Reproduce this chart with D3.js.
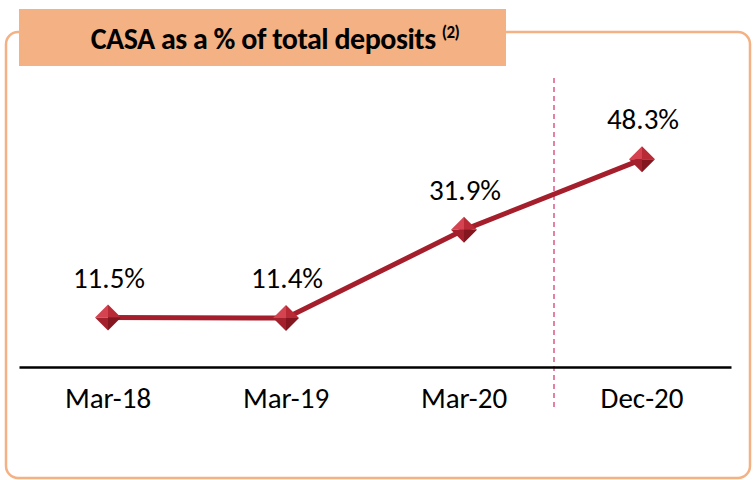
<!DOCTYPE html>
<html>
<head>
<meta charset="utf-8">
<style>
body{margin:0;background:#fff;}
svg{display:block;font-family:Carlito,Lato,"Open Sans",sans-serif;}
</style>
<script src="https://d3js.org/d3.v7.min.js"></script>
</head>
<body>
<svg id="chart" width="754" height="480"></svg>
<script>
// data
const categories = ["Mar-18", "Mar-19", "Mar-20", "Dec-20"];
const casaValues = [11.5, 11.4, 31.9, 48.3];
const valueLabels = ["11.5%", "11.4%", "31.9%", "48.3%"];
const titleText = "CASA as a % of total deposits";
const titleNote = "(2)";

const svg = d3.select("#chart");
const orange = "#F4B183";
const lineRed = "#A51E2B";

// outer frame
svg.append("rect")
  .attr("x", 6).attr("y", 32)
  .attr("width", 744).attr("height", 446)
  .attr("rx", 12).attr("ry", 12)
  .attr("fill", "none")
  .attr("stroke", orange)
  .attr("stroke-width", 2.5);

// title box
svg.append("rect")
  .attr("x", 19).attr("y", 9)
  .attr("width", 487).attr("height", 57)
  .attr("fill", orange);

const title = svg.append("text")
  .attr("x", 275).attr("y", 49)
  .attr("text-anchor", "middle")
  .attr("font-weight", "bold")
  .attr("font-size", 30)
  .attr("letter-spacing", -0.5)
  .attr("fill", "#000");
title.append("tspan").text(titleText);
title.append("tspan")
  .attr("font-size", 17)
  .attr("dx", 6)
  .attr("dy", -11)
  .text(titleNote);

// scales
const x = d3.scaleBand().domain(categories).range([19, 731]).padding(0);
const y = d3.scaleLinear().domain([0, 50]).range([367, 152]);
const cx = d => x(d) + x.bandwidth() / 2;

// dashed separator between Mar-20 and Dec-20
const sepX = x("Dec-20") + 1;
svg.append("line")
  .attr("x1", sepX).attr("x2", sepX)
  .attr("y1", 78).attr("y2", 408)
  .attr("stroke", "#D42E6A")
  .attr("stroke-width", 1.2)
  .attr("stroke-dasharray", "5,4");

// x axis
const axis = svg.append("g")
  .attr("transform", "translate(0," + y(0) + ")")
  .call(d3.axisBottom(x).tickSize(0).tickSizeOuter(0));
axis.select(".domain").attr("stroke", "#000").attr("stroke-width", 2.5);
axis.selectAll("text")
  .attr("font-size", 29)
  .attr("font-family", "Carlito,Lato,'Open Sans',sans-serif")
  .attr("fill", "#000")
  .attr("y", 41)
  .attr("dy", 0);

// line
const pts = categories.map((c, i) => ({cat: c, v: casaValues[i], label: valueLabels[i]}));
svg.append("path")
  .datum(pts)
  .attr("fill", "none")
  .attr("stroke", lineRed)
  .attr("stroke-width", 5)
  .attr("d", d3.line().x(d => cx(d.cat)).y(d => y(d.v)));

// bevelled diamond markers
const s = 13;
const facets = [
  {pts: [[0,0],[-s,0],[0,-s]], fill: "#D4434F"},
  {pts: [[0,0],[0,-s],[s,0]], fill: "#B92A37"},
  {pts: [[0,0],[-s,0],[0,s]], fill: "#A3202D"},
  {pts: [[0,0],[s,0],[0,s]], fill: "#841620"}
];
const markers = svg.selectAll(".marker").data(pts).enter().append("g")
  .attr("class", "marker")
  .attr("transform", d => "translate(" + cx(d.cat) + "," + y(d.v) + ")");
markers.selectAll("polygon").data(facets).enter().append("polygon")
  .attr("points", f => f.pts.map(p => p.join(",")).join(" "))
  .attr("fill", f => f.fill);

// value labels
svg.selectAll(".vlabel").data(pts).enter().append("text")
  .attr("class", "vlabel")
  .attr("x", d => cx(d.cat) + 1)
  .attr("y", d => y(d.v) - 30)
  .attr("text-anchor", "middle")
  .attr("font-size", 29)
  .attr("fill", "#000")
  .text(d => d.label);
</script>
</body>
</html>
